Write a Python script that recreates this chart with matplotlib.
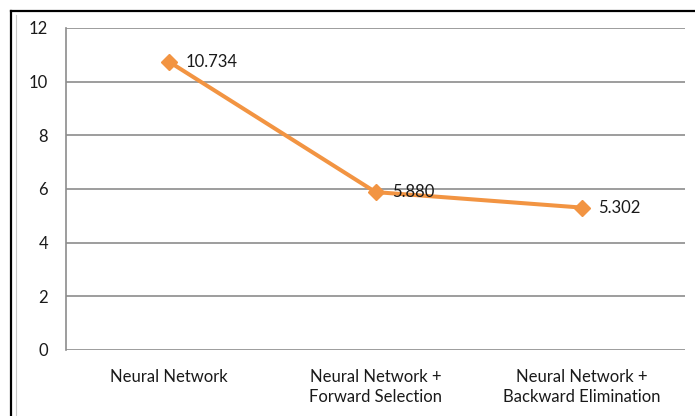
import matplotlib
matplotlib.use('Agg')
import matplotlib.pyplot as plt
from matplotlib.lines import Line2D

# Data
categories = ['Neural Network', 'Neural Network +\nForward Selection', 'Neural Network +\nBackward Elimination']
values = [10.734, 5.880, 5.302]
value_labels = ['10.734', '5.880', '5.302']
y_ticks = [0, 2, 4, 6, 8, 10, 12]

plt.rcParams['font.family'] = ['Lato', 'DejaVu Sans']

fig = plt.figure(figsize=(6.95, 4.16), dpi=100)
ax = fig.add_axes([0.095, 0.159, 0.8906, 0.774])

x = list(range(len(categories)))
orange = '#F29442'
ax.plot(x, values, color=orange, linewidth=2.9, marker='D', markersize=8,
        markerfacecolor=orange, markeredgecolor=orange, zorder=3)

for xi, v, lab in zip(x, values, value_labels):
    ax.annotate(lab, (xi, v), xytext=(12, 0), textcoords='offset points',
                ha='left', va='center', fontsize=12, color='#1a1a1a', zorder=4)

ax.set_xlim(-0.5, 2.5)
ax.set_ylim(0, 12)
ax.set_yticks(y_ticks)
ax.set_xticks(x)
ax.set_xticklabels(categories, fontsize=12, color='#1a1a1a', linespacing=1.25)
ax.tick_params(axis='y', labelsize=12, labelcolor='#1a1a1a', length=0, pad=13)
ax.tick_params(axis='x', length=0, pad=14)

ax.yaxis.grid(True, color='#8c8c8c', linewidth=1.2)
ax.set_axisbelow(True)
for side in ['top', 'right', 'bottom']:
    ax.spines[side].set_visible(False)
ax.spines['left'].set_color('#8c8c8c')
ax.spines['left'].set_linewidth(1.2)

# Outer frame lines (top and left edges of the screenshot)
fig.add_artist(Line2D([0.016, 1.0], [0.9736, 0.9736], transform=fig.transFigure, color='black', linewidth=1.6))
fig.add_artist(Line2D([0.016, 0.016], [0.0, 0.9736], transform=fig.transFigure, color='black', linewidth=1.6))
fig.add_artist(Line2D([0.023, 0.023], [0.0, 0.965], transform=fig.transFigure, color='#c8c8c8', linewidth=0.8))

plt.savefig('out.png', dpi=100)
